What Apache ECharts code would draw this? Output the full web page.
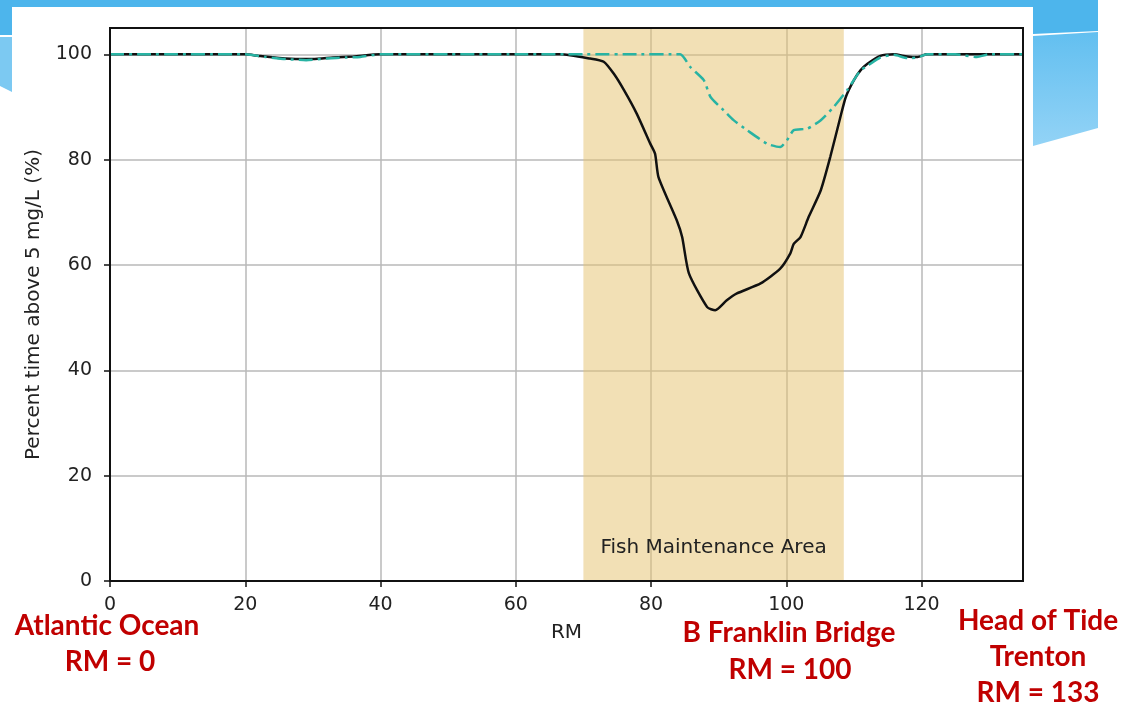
<!DOCTYPE html>
<html>
<head>
<meta charset="utf-8">
<script src="https://cdn.jsdelivr.net/npm/echarts@6/dist/echarts.min.js"></script>
<style>html,body{margin:0;padding:0;background:#fff;}#c{width:1124px;height:704px;}</style>
</head>
<body>
<div id="c"></div>
<script>
// River mile positions and percent of time above 5 mg/L
const rmBlack = [0, 5, 10, 15, 20, 22, 25, 28, 30, 33, 36, 40, 50, 60, 66.6, 71.0, 73.0, 74.5, 76.0, 77.9, 79.9, 80.6, 81.1, 83.8, 84.6, 85.6, 88.3, 89.5, 91.2, 92.7, 96.2, 99.1, 100.6, 101.1, 102.1, 103.3, 105.1, 106.5, 108.0, 108.8, 110.0, 111.0, 112.0, 113.9, 115.9, 117.9, 119.4, 120.8, 125, 130, 135];
const pctBlack = [100, 100, 100, 100, 100, 99.7, 99.3, 99.1, 99.1, 99.4, 99.6, 100, 100, 100, 100, 99.2, 98.6, 96.3, 93.2, 88.7, 83.0, 81.1, 76.7, 68.5, 65.3, 58.4, 52.0, 51.4, 53.3, 54.6, 56.5, 59.3, 62.2, 64.0, 65.3, 69.1, 74.2, 80.5, 88.1, 91.9, 95.1, 97.0, 98.2, 99.7, 100, 99.6, 99.5, 100, 100, 100, 100];
const rmTeal = [0, 5, 10, 15, 20, 23, 26, 29, 32, 35, 37, 40, 50, 60, 70, 78, 84.3, 85.8, 87.8, 88.8, 90.7, 92.2, 94.2, 97.2, 99.1, 100.1, 101.1, 103.1, 105.1, 107.0, 109.0, 111.0, 112.0, 113.9, 115.9, 117.9, 119.4, 120.8, 125, 128.2, 130, 135];
const pctTeal = [100, 100, 100, 100, 100, 99.5, 99.1, 98.9, 99.2, 99.4, 99.5, 100, 100, 100, 100, 100, 100, 97.6, 95.1, 91.9, 89.4, 87.5, 85.6, 83.0, 82.4, 83.7, 85.6, 85.9, 87.5, 90.0, 93.2, 97.0, 97.8, 99.4, 99.9, 99.3, 99.4, 100, 100, 99.5, 100, 100];
const fishArea = [70, 108.5];
const fishLabel = 'Fish Maintenance Area';
const xTitle = 'RM';
const yTitle = 'Percent time above 5 mg/L (%)';

const pairs = (xs, ys) => xs.map((x, i) => [x, ys[i]]);
const chart = echarts.init(document.getElementById('c'));
const redText = (x, y, t) => ({
  type: 'text', x: x, y: y,
  style: { text: t, fill: '#c00000', font: 'bold 28px Lato', textAlign: 'center', textVerticalAlign: 'middle' }
});
chart.setOption({
  animation: false,
  backgroundColor: '#fff',
  graphic: [
    { type: 'rect', shape: { x: 0, y: 0, width: 1098, height: 7 }, style: { fill: '#4db5ec' }, z: -10 },
    { type: 'rect', shape: { x: 0, y: 0, width: 12, height: 35 }, style: { fill: '#4db5ec' }, z: -10 },
    { type: 'polygon', shape: { points: [[0, 37], [12, 37], [12, 92], [0, 86]] }, style: { fill: '#7cc9f2' }, z: -10 },
    { type: 'polygon', shape: { points: [[1033, 0], [1098, 0], [1098, 31], [1033, 34]] }, style: { fill: '#4db5ec' }, z: -10 },
    { type: 'polygon', shape: { points: [[1033, 36], [1098, 32], [1098, 128], [1033, 146]] }, style: { fill: new echarts.graphic.LinearGradient(0, 0, 0, 1, [{ offset: 0, color: '#62bff0' }, { offset: 1, color: '#93d3f6' }]) }, z: -10 },
    redText(107, 626, 'Atlantic Ocean'),
    redText(110, 662, 'RM = 0'),
    redText(789, 633, 'B Franklin Bridge'),
    redText(790, 670, 'RM = 100'),
    redText(1038, 621, 'Head of Tide'),
    redText(1038, 657, 'Trenton'),
    redText(1038, 693, 'RM = 133')
  ],
  grid: { left: 110, right: 101, top: 28, bottom: 123, show: true, borderColor: '#111', borderWidth: 2, backgroundColor: 'transparent', z: 5 },
  xAxis: {
    type: 'value', min: 0, max: 135, interval: 20,
    name: xTitle, nameLocation: 'middle', nameGap: 42,
    nameTextStyle: { color: '#222', fontSize: 20, fontFamily: 'DejaVu Sans' },
    axisLine: { show: true, lineStyle: { color: '#111', width: 2 } },
    axisTick: { show: true, length: 6, lineStyle: { color: '#111', width: 1.5 } },
    axisLabel: { color: '#222', fontSize: 19, fontFamily: 'DejaVu Sans', margin: 15, showMaxLabel: false },
    splitLine: { show: true, lineStyle: { color: '#b8b8b8', width: 1.5 } }
  },
  yAxis: {
    type: 'value', min: 0, max: 105, interval: 20,
    name: yTitle, nameLocation: 'middle', nameGap: 66,
    nameTextStyle: { color: '#222', fontSize: 20, fontFamily: 'DejaVu Sans' },
    axisLine: { show: true, lineStyle: { color: '#111', width: 2 } },
    axisTick: { show: true, length: 6, lineStyle: { color: '#111', width: 1.5 } },
    axisLabel: { color: '#222', fontSize: 19, fontFamily: 'DejaVu Sans', margin: 18, showMaxLabel: false },
    splitLine: { show: true, lineStyle: { color: '#b8b8b8', width: 1.5 } }
  },
  series: [
    {
      type: 'line', data: pairs(rmBlack, pctBlack), showSymbol: false, smooth: 0.2,
      lineStyle: { color: '#111', width: 2.5 }, z: 3,
      markArea: {
        silent: true,
        itemStyle: { color: 'rgba(229,193,107,0.5)' },
        label: { show: true, position: 'insideBottom', distance: 23, color: '#222', fontSize: 20, fontFamily: 'DejaVu Sans' },
        data: [[{ xAxis: fishArea[0], name: fishLabel }, { xAxis: fishArea[1] }]]
      }
    },
    {
      type: 'line', data: pairs(rmTeal, pctTeal), showSymbol: false, smooth: 0.2,
      lineStyle: { color: '#28b3a3', width: 2.5, type: [14, 5, 3, 5] }, z: 4
    }
  ]
});
</script>
</body>
</html>
